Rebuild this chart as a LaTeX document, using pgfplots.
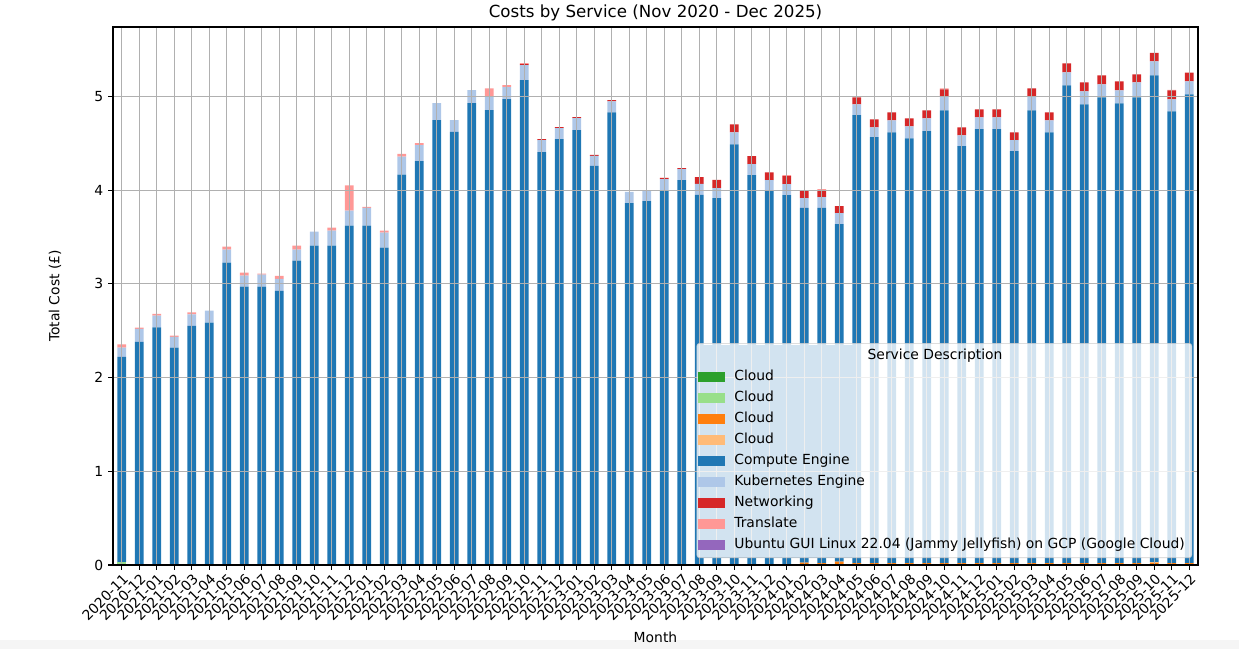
\documentclass[border=0pt]{standalone}
\usepackage{pgfplots}
\usepackage{pgfplotstable}
\pgfplotsset{compat=1.18}
\usepackage{fontspec}
\setmainfont{DejaVu Sans}
\definecolor{cG}{HTML}{2CA02C}
\definecolor{cLG}{HTML}{98DF8A}
\definecolor{cO}{HTML}{FF7F0E}
\definecolor{cLO}{HTML}{FFBB78}
\definecolor{cCE}{HTML}{1F77B4}
\definecolor{cK}{HTML}{AEC7E8}
\definecolor{cN}{HTML}{D62728}
\definecolor{cT}{HTML}{FF9896}
\definecolor{cU}{HTML}{9467BD}
\definecolor{gridc}{HTML}{B0B0B0}
\definecolor{legc}{HTML}{CCCCCC}
\pgfplotstableread{
m G LG O LO CE K N T U
0 0 0.03 0 0 2.19 0.10 0 0.035 0
1 0 0 0 0 2.38 0.14 0 0.012 0
2 0 0 0 0 2.535 0.125 0 0.02 0
3 0 0 0 0 2.32 0.115 0 0.012 0
4 0 0 0 0 2.55 0.125 0 0.02 0
5 0 0 0 0 2.585 0.128 0 0 0
6 0 0 0 0 3.225 0.14 0 0.032 0
7 0 0 0 0 2.97 0.118 0 0.032 0
8 0 0 0 0 2.97 0.128 0 0.011 0
9 0 0 0 0 2.925 0.128 0 0.032 0
10 0 0 0 0 3.248 0.117 0 0.043 0
11 0 0 0 0 3.408 0.15 0 0 0
12 0 0 0 0 3.408 0.16 0 0.031 0
13 0 0 0 0 3.62 0.16 0 0.27 0
14 0 0 0 0 3.62 0.19 0 0.01 0
15 0 0 0 0 3.387 0.16 0 0.021 0
16 0 0 0 0 4.164 0.192 0 0.029 0
17 0 0 0 0 4.31 0.17 0 0.02 0
18 0 0 0 0 4.747 0.182 0 0 0
19 0 0 0 0 4.62 0.127 0 0 0
20 0 0 0 0 4.929 0.138 0 0 0
21 0 0 0 0 4.853 0.147 0 0.085 0
22 0 0 0 0 4.97 0.128 0 0.021 0
23 0 0 0 0 5.174 0.16 0.01 0.01 0
24 0 0 0 0 4.406 0.127 0.011 0 0
25 0 0 0 0 4.544 0.118 0.01 0 0
26 0 0 0 0 4.64 0.128 0.01 0 0
27 0 0 0 0 4.257 0.107 0.011 0 0
28 0 0 0 0 4.83 0.117 0.013 0 0
29 0 0 0 0 3.862 0.118 0 0 0
30 0 0 0 0 3.883 0.117 0 0 0
31 0 0 0 0 3.99 0.127 0.01 0.006 0
32 0 0 0 0 4.107 0.117 0.011 0 0
33 0 0 0 0 3.948 0.117 0.074 0 0
34 0 0 0 0 3.915 0.105 0.088 0 0
35 0 0 0 0 4.489 0.128 0.083 0 0
36 0 0 0 0 4.16 0.117 0.085 0 0
37 0 0 0 0 3.99 0.116 0.084 0 0
38 0 0 0 0 3.947 0.117 0.085 0.011 0
39 0 0 0.025 0 3.785 0.105 0.075 0 0
40 0 0 0.02 0 3.79 0.116 0.074 0.01 0
41 0 0 0.035 0 3.603 0.117 0.075 0 0
42 0 0 0.02 0 4.78 0.115 0.075 0 0
43 0 0 0.02 0 4.544 0.106 0.085 0 0
44 0 0 0.02 0 4.597 0.128 0.085 0 0
45 0 0 0.02 0 4.533 0.127 0.086 0 0
46 0 0 0.02 0 4.608 0.138 0.084 0 0
47 0 0 0.02 0 4.83 0.15 0.074 0.011 0
48 0 0 0.02 0 4.448 0.117 0.085 0 0
49 0 0 0.02 0 4.63 0.127 0.085 0 0
50 0 0 0.02 0 4.63 0.127 0.085 0 0
51 0 0 0.02 0 4.395 0.117 0.085 0 0
52 0 0 0.02 0 4.83 0.15 0.085 0 0
53 0 0 0.02 0 4.597 0.128 0.085 0 0
54 0 0 0.02 0 5.097 0.138 0.096 0 0
55 0 0 0.02 0 4.895 0.138 0.096 0 0
56 0 0 0.02 0 4.97 0.138 0.095 0 0
57 0 0 0.02 0 4.906 0.138 0.096 0 0
58 0 0 0.02 0 4.97 0.159 0.085 0 0
59 0 0 0.02 0.008 5.195 0.15 0.09 0 0
60 0 0 0.02 0 4.82 0.128 0.096 0.005 0
61 0 0 0.02 0 5.00 0.139 0.095 0 0
}\costs
\begin{document}
\begin{tikzpicture}
\path[use as bounding box] (-81.36bp,-60.48bp) rectangle (810.72bp,406.8bp);
\fill[color=black!4] (-81.36bp,-60.48bp) rectangle (810.72bp,-54bp);
\begin{axis}[
  at={(0,0)}, anchor=south west,
  scale only axis, width=781.2bp, height=387.36bp,
  ybar stacked, bar width=0.5,
  xmin=-0.5, xmax=61.5, ymin=0, ymax=5.74,
  xtick={0,...,61},
  xticklabels={2020-11,2020-12,2021-01,2021-02,2021-03,2021-04,2021-05,2021-06,2021-07,2021-08,2021-09,2021-10,2021-11,2021-12,2022-01,2022-02,2022-03,2022-04,2022-05,2022-06,2022-07,2022-08,2022-09,2022-10,2022-11,2022-12,2023-01,2023-02,2023-03,2023-04,2023-05,2023-06,2023-07,2023-08,2023-09,2023-10,2023-11,2023-12,2024-01,2024-02,2024-03,2024-04,2024-05,2024-06,2024-07,2024-08,2024-09,2024-10,2024-11,2024-12,2025-01,2025-02,2025-03,2025-04,2025-05,2025-06,2025-07,2025-08,2025-09,2025-10,2025-11,2025-12},
  ytick={0,1,2,3,4,5},
  /pgf/number format/assume math mode=true,
  tick label style={font=\fontsize{10bp}{12bp}\selectfont},
  xticklabel style={rotate=45, anchor=north east, inner sep=1.5bp},
  tick pos=left, tick align=outside, major tick length=3.5bp,
  every tick/.style={black, line width=0.8bp},
  axis line style={line width=0.8bp},
  grid=major, major grid style={color=gridc, line width=0.8bp},
  axis on top,
  title={Costs by Service (Nov 2020 - Dec 2025)},
  title style={font=\fontsize{12bp}{14bp}\selectfont, yshift=-5.5bp},
  xlabel={Month}, ylabel={Total Cost (£)},
  label style={font=\fontsize{10bp}{12bp}\selectfont},
  xlabel style={yshift=-2bp},
  ylabel style={yshift=17bp},
  legend cell align=left,
  legend style={at={(0.9945,0.013)}, anchor=south east,
    fill=white, fill opacity=0.8, text opacity=1, draw=legc, rounded corners=2bp,
    font=\fontsize{10bp}{12bp}\selectfont, row sep=0.6bp, column sep=4.5bp,
    inner xsep=0.5bp,
    nodes={inner sep=2bp, text height=8bp, text depth=2.5bp}},
  leg/.style={legend image code/.code={\fill[##1, fill opacity=1, sharp corners] (0bp,-3.5bp) rectangle (20bp,3.5bp);}},
]
\fill[color=cCE] (axis cs:32.9,0.075) rectangle (axis cs:42.2,2.35);
\addlegendimage{empty legend}
\addlegendentry{\makebox[0pt][l]{\hspace{96bp}Service Description}}
\addplot[fill=cG, draw=none, leg] table[x=m, y=G] {\costs};
\addlegendentry{Cloud}
\addplot[fill=cLG, draw=none, leg] table[x=m, y=LG] {\costs};
\addlegendentry{Cloud}
\addplot[fill=cO, draw=none, leg] table[x=m, y=O] {\costs};
\addlegendentry{Cloud}
\addplot[fill=cLO, draw=none, leg] table[x=m, y=LO] {\costs};
\addlegendentry{Cloud}
\addplot[fill=cCE, draw=none, leg] table[x=m, y=CE] {\costs};
\addlegendentry{Compute Engine}
\addplot[fill=cK, draw=none, leg] table[x=m, y=K] {\costs};
\addlegendentry{Kubernetes Engine}
\addplot[fill=cN, draw=none, leg] table[x=m, y=N] {\costs};
\addlegendentry{Networking}
\addplot[fill=cT, draw=none, leg] table[x=m, y=T] {\costs};
\addlegendentry{Translate}
\addplot[fill=cU, draw=none, leg] table[x=m, y=U] {\costs};
\addlegendentry{Ubuntu GUI Linux 22.04 (Jammy Jellyfish) on GCP (Google Cloud)\rule{2.5bp}{0pt}}
\end{axis}
\end{tikzpicture}
\end{document}
